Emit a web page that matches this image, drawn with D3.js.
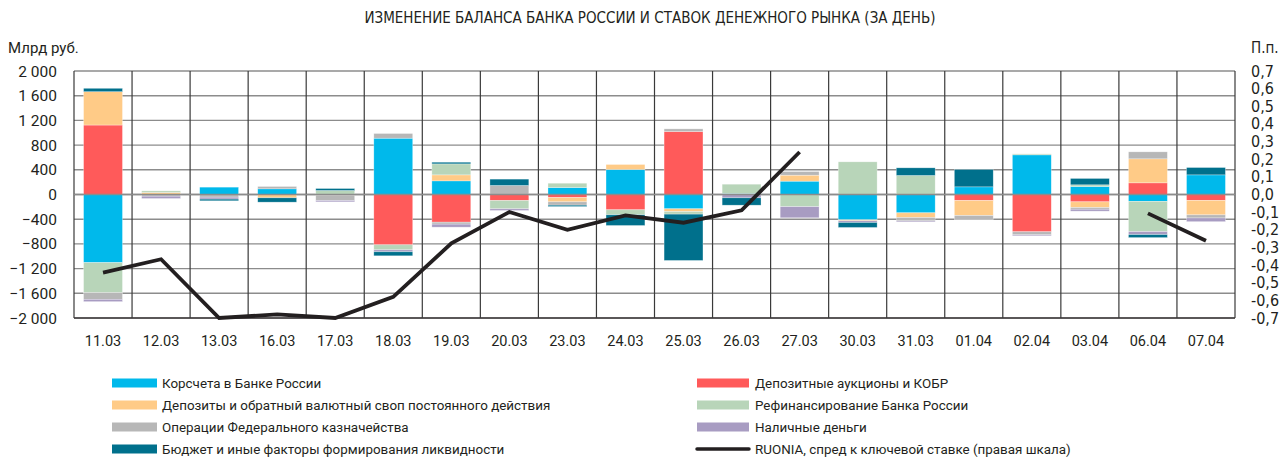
<!DOCTYPE html>
<html>
<head>
<meta charset="utf-8">
<script src="https://cdn.jsdelivr.net/npm/d3@7"></script>
<style>
  body { margin: 0; background: #fff; }
  text { font-family: Roboto, "Noto Sans", sans-serif; fill: #231f20; }
</style>
</head>
<body>
<div id="chart"></div>
<script>
var categories = ['11.03','12.03','13.03','16.03','17.03','18.03','19.03','20.03','23.03','24.03',
                  '25.03','26.03','27.03','30.03','31.03','01.04','02.04','03.04','06.04','07.04'];

// млрд руб.
var korscheta = [-1104, 0, 119, 92, 0, 912, 221, 0, 113, 405, -232, 16, 216, -410, -297, 124, 642, 130, -110, 318];
var auctions  = [1125, 0, 0, 0, 0, -815, -448, -97, -49, -248, 1020, 0, 0, 0, 0, -97, -604, -119, 189, -95];
var deposits  = [540, 32, 0, -54, -11, 0, 97, 0, -70, 81, -43, 0, 97, -16, -76, -243, 0, -92, 389, -235];
var refinance = [-486, 27, 0, 0, 65, -81, 178, -135, 70, -81, -43, 151, -197, 529, 308, 0, 16, 27, -490, 0];
var treasury  = [-107, -27, -43, 38, -86, 76, -32, 146, -54, 0, 43, 0, 59, 0, -54, -70, -49, -27, 113, -50];
var cash      = [-38, -38, -32, 0, -22, -32, -49, -27, 0, 0, 0, -54, -180, -27, -16, 0, -16, -32, -49, -60];
var budget    = [55, 0, -27, -70, 32, -65, 27, 103, -22, -173, -750, -119, 0, -81, 124, 281, 0, 103, -49, 119];

// п.п., правая шкала
var ruonia = [-0.443, -0.367, -0.70, -0.68, -0.70, -0.58, -0.277, -0.099, -0.20, -0.118,
              -0.16, -0.09, 0.241, null, null, null, null, null, -0.107, -0.262];

var leftTicks = [2000, 1600, 1200, 800, 400, 0, -400, -800, -1200, -1600, -2000];
var rightTicks = [0.7, 0.6, 0.5, 0.4, 0.3, 0.2, 0.1, 0, -0.1, -0.2, -0.3, -0.4, -0.5, -0.6, -0.7];

var series = [
  {key: 'blue',   name: 'Корсчета в Банке России', values: korscheta, color: '#00b9eb'},
  {key: 'red',    name: 'Депозитные аукционы и КОБР', values: auctions, color: '#ff5a5a'},
  {key: 'orange', name: 'Депозиты и обратный валютный своп постоянного действия', values: deposits, color: '#ffcb87'},
  {key: 'green',  name: 'Рефинансирование Банка России', values: refinance, color: '#b8d5b9'},
  {key: 'gray',   name: 'Операции Федерального казначейства', values: treasury, color: '#b7b7b7'},
  {key: 'purple', name: 'Наличные деньги', values: cash, color: '#a89cc2'},
  {key: 'teal',   name: 'Бюджет и иные факторы формирования ликвидности', values: budget, color: '#00708c'}
];

var width = 1288, height = 460,
    margin = {top: 71, right: 53, bottom: 142, left: 74};

var svg = d3.select('#chart').append('svg')
  .attr('width', width)
  .attr('height', height);

var table = categories.map(function(c, i) {
  var row = {cat: c};
  series.forEach(function(s) { row[s.key] = s.values[i]; });
  return row;
});

var xBand = d3.scaleBand().domain(categories).range([margin.left, width - margin.right]);
var xBar = d3.scaleBand().domain(categories).range([margin.left, width - margin.right])
  .paddingInner(0.33).paddingOuter(0.165);
var y = d3.scaleLinear().domain([-2000, 2000]).range([height - margin.bottom, margin.top]);
var y2 = d3.scaleLinear().domain([-0.7, 0.7]).range([height - margin.bottom, margin.top]);

// grid
svg.append('g').selectAll('line.h')
  .data(leftTicks)
  .enter().append('line')
  .attr('x1', margin.left).attr('x2', width - margin.right)
  .attr('y1', d => y(d)).attr('y2', d => y(d))
  .attr('stroke', d => d === -2000 ? '#231f20' : '#8c8c8c')
  .attr('stroke-width', d => d === -2000 ? 1.5 : 1.4);

var bounds = categories.map(c => xBand(c)).concat([width - margin.right]);
svg.append('g').selectAll('line.v')
  .data(bounds)
  .enter().append('line')
  .attr('x1', d => d).attr('x2', d => d)
  .attr('y1', y(2000)).attr('y2', y(-2000))
  .attr('stroke', '#3a3a3a')
  .attr('stroke-width', 1.2);

// bars
var stack = d3.stack().keys(series.map(s => s.key)).offset(d3.stackOffsetDiverging);
var layers = stack(table);

svg.append('g').selectAll('g')
  .data(layers)
  .enter().append('g')
  .attr('fill', (d, i) => series[i].color)
  .selectAll('rect')
  .data(d => d.filter(p => p[1] - p[0] !== 0))
  .enter().append('rect')
  .attr('x', d => xBar(d.data.cat))
  .attr('width', xBar.bandwidth())
  .attr('y', d => y(Math.max(d[0], d[1])))
  .attr('height', d => Math.abs(y(d[0]) - y(d[1])))
  .attr('stroke', '#ffffff')
  .attr('stroke-opacity', 0.5)
  .attr('stroke-width', 0.6);

// zero line
svg.append('line')
  .attr('x1', margin.left).attr('x2', width - margin.right)
  .attr('y1', y(0)).attr('y2', y(0))
  .attr('stroke', '#8c8c8c').attr('stroke-width', 1.4);

// RUONIA line
var line = d3.line()
  .defined(d => d.v !== null)
  .x(d => xBand(d.cat) + xBand.bandwidth() / 2)
  .y(d => y2(d.v));

svg.append('path')
  .datum(categories.map((c, i) => ({cat: c, v: ruonia[i]})))
  .attr('d', line)
  .attr('fill', 'none')
  .attr('stroke', '#231f20')
  .attr('stroke-width', 3.8);

// axes labels
var fmt = d => d3.format(',')(d).replace(',', ' ');
svg.append('g').selectAll('text')
  .data(leftTicks)
  .enter().append('text')
  .attr('x', 57).attr('y', d => y(d) + 5.5)
  .attr('text-anchor', 'end')
  .style('font-size', '15.5px')
  .text(d => fmt(d));

svg.append('g').selectAll('text')
  .data(rightTicks)
  .enter().append('text')
  .attr('x', 1251).attr('y', d => y2(d) + 5.5)
  .style('font-family', '"Liberation Sans Narrow", "DejaVu Sans Condensed", sans-serif')
  .style('font-size', '16px')
  .text(d => d3.format('.1f')(d).replace('.', ',').replace('−', '-'));

svg.append('g').selectAll('text')
  .data(categories)
  .enter().append('text')
  .attr('x', d => xBand(d) + xBand.bandwidth() / 2)
  .attr('y', 346)
  .attr('text-anchor', 'middle')
  .style('font-size', '14.5px')
  .text(d => d);

svg.append('text').attr('x', 8).attr('y', 53).style('font-size', '15px').text('Млрд руб.');
svg.append('text').attr('x', 1251).attr('y', 53)
  .style('font-family', '"Liberation Sans Narrow", "DejaVu Sans Condensed", sans-serif')
  .style('font-size', '15px').text('П.п.');

svg.append('text')
  .attr('x', 650).attr('y', 23)
  .attr('text-anchor', 'middle')
  .style('font-family', '"Liberation Sans Narrow", "DejaVu Sans Condensed", sans-serif')
  .style('font-size', '15px')
  .text('ИЗМЕНЕНИЕ БАЛАНСА БАНКА РОССИИ И СТАВОК ДЕНЕЖНОГО РЫНКА (ЗА ДЕНЬ)');

// legend: two columns
var legendItems = series.map(s => ({name: s.name, color: s.color, type: 'rect'}))
  .concat([{name: 'RUONIA, спред к ключевой ставке (правая шкала)', color: '#231f20', type: 'line'}]);
var rowsY = [383, 405, 427, 449];
var colX = [112, 697], swatchW = [45, 52], textX = [50, 58];

var leg = svg.append('g').selectAll('g')
  .data(legendItems)
  .enter().append('g')
  .attr('transform', (d, i) => 'translate(' + colX[i % 2] + ',' + rowsY[Math.floor(i / 2)] + ')');

leg.filter(d => d.type === 'rect').append('rect')
  .attr('x', 0).attr('y', -4.5)
  .attr('width', d => swatchW[legendItems.indexOf(d) % 2])
  .attr('height', 9)
  .attr('fill', d => d.color);

leg.filter(d => d.type === 'line').append('line')
  .attr('x1', 0).attr('x2', 52).attr('y1', 0).attr('y2', 0)
  .attr('stroke', d => d.color).attr('stroke-width', 3.5).attr('stroke-linecap', 'round');

leg.append('text')
  .attr('x', (d, i) => textX[i % 2])
  .attr('y', 5)
  .style('font-size', '13.4px')
  .text(d => d.name);
</script>
</body>
</html>
